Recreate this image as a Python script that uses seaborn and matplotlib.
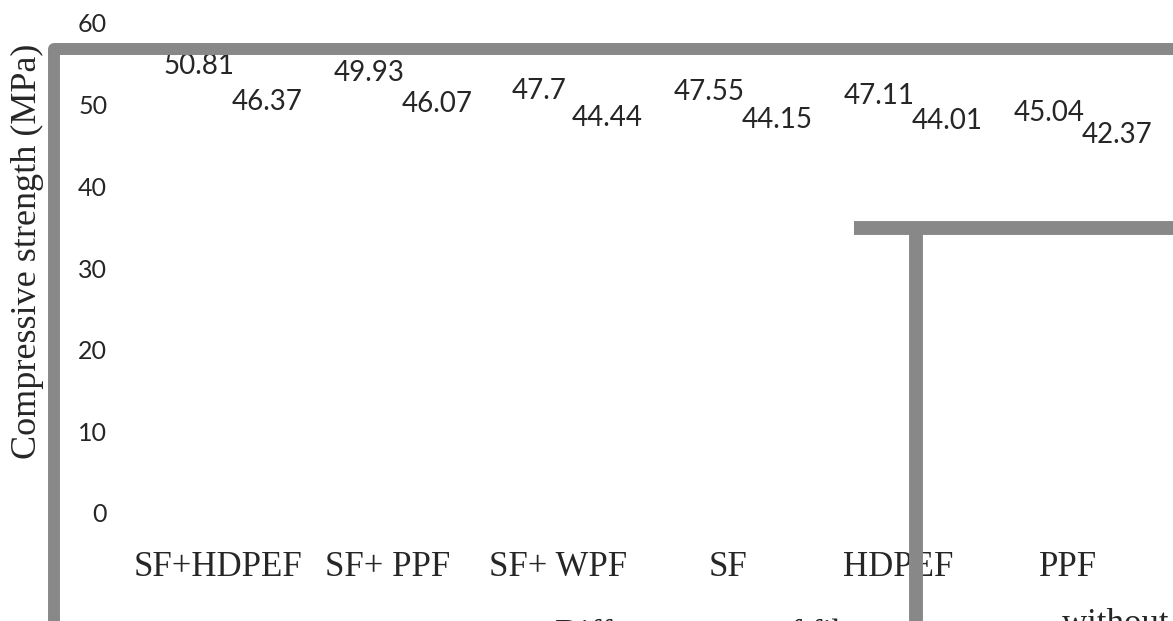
import numpy as np
import pandas as pd
import seaborn as sns
from matplotlib import pyplot as plt
from matplotlib.lines import Line2D
from matplotlib.transforms import ScaledTranslation

# data
categories = ["SF+HDPEF", "SF+ PPF", "SF+ WPF", "SF", "HDPEF", "PPF"]
series_names = ["Series 1", "Series 2"]
series_1 = [50.81, 49.93, 47.7, 47.55, 47.11, 45.04]
series_2 = [46.37, 46.07, 44.44, 44.15, 44.01, 42.37]
y_ticks = [0, 10, 20, 30, 40, 50, 60]

df = pd.DataFrame({
    "fiber": categories * 2,
    "series": [series_names[0]] * len(categories) + [series_names[1]] * len(categories),
    "strength": series_1 + series_2,
})

sns.set_style("white")
plt.rcParams['font.family'] = ['Liberation Serif', 'DejaVu Serif']

W, H = 1173, 621
fig = plt.figure(figsize=(W / 100, H / 100), dpi=100)

# axes placed in pixels, right side runs off the picture like the original
ax_left, ax_top, ax_bottom = 110, 23, 513
ax = fig.add_axes([ax_left / W, (H - ax_bottom) / H, (W - ax_left) / W, (ax_bottom - ax_top) / H])

# bars are not visible in the original, only their labels
sns.barplot(data=df, x="fiber", y="strength", hue="series", order=categories,
            palette=["white", "white"], linewidth=0, legend=False, ax=ax)

for cont, vals in zip(ax.containers, [series_1, series_2]):
    ax.bar_label(cont, labels=[f"{v:g}" for v in vals], padding=14,
                 fontsize=20, family=['Lato', 'DejaVu Sans'])

px_per_cat = 170
x0 = -(233 - ax_left) / px_per_cat
ax.set_xlim(x0, x0 + (W - ax_left) / px_per_cat)
ax.set_ylim(0, 60)
ax.set_yticks(y_ticks)
ax.set_yticklabels([str(t) for t in y_ticks], family=['Lato', 'DejaVu Sans'], fontsize=18)
ax.tick_params(axis='y', length=0, pad=2)
ax.tick_params(axis='x', length=0, pad=27, labelsize=25)
# category names sit a bit left of the bar pairs in the original
shift = ScaledTranslation(-15 / 100, 0, fig.dpi_scale_trans)
for lab in ax.get_xticklabels():
    lab.set_transform(lab.get_transform() + shift)
sns.despine(ax=ax, left=True, bottom=True)

ax.set_ylabel("Compressive strength (MPa)", fontsize=26)
ax.yaxis.label.set_va('center')
ax.yaxis.set_label_coords((27 - ax_left) / (W - ax_left), (ax_bottom - 251) / (ax_bottom - ax_top))

ax.set_xlabel("Different types of fibers", fontsize=25)
ax.xaxis.label.set_va('baseline')
ax.xaxis.set_label_coords((723 - ax_left) / (W - ax_left), (ax_bottom - 644) / (ax_bottom - ax_top))

fig.text(1062 / W, 1 - 633 / H, "without fiber", fontsize=25, ha='left', va='baseline')

# thick grey frame lines of the original
def px(x, y):
    return x / W, 1 - y / H

grey = "#888888"
xs, ys = zip(px(54, 660), px(54, 49), px(1200, 49))
fig.add_artist(Line2D(xs, ys, color=grey, lw=8.6, solid_joinstyle='round',
                      solid_capstyle='butt', transform=fig.transFigure))
xs, ys = zip(px(854, 228), px(1200, 228))
fig.add_artist(Line2D(xs, ys, color=grey, lw=10, solid_capstyle='butt', transform=fig.transFigure))
xs, ys = zip(px(916, 228), px(916, 660))
fig.add_artist(Line2D(xs, ys, color=grey, lw=10, solid_capstyle='butt', transform=fig.transFigure))

fig.savefig("out.png", dpi=100)
